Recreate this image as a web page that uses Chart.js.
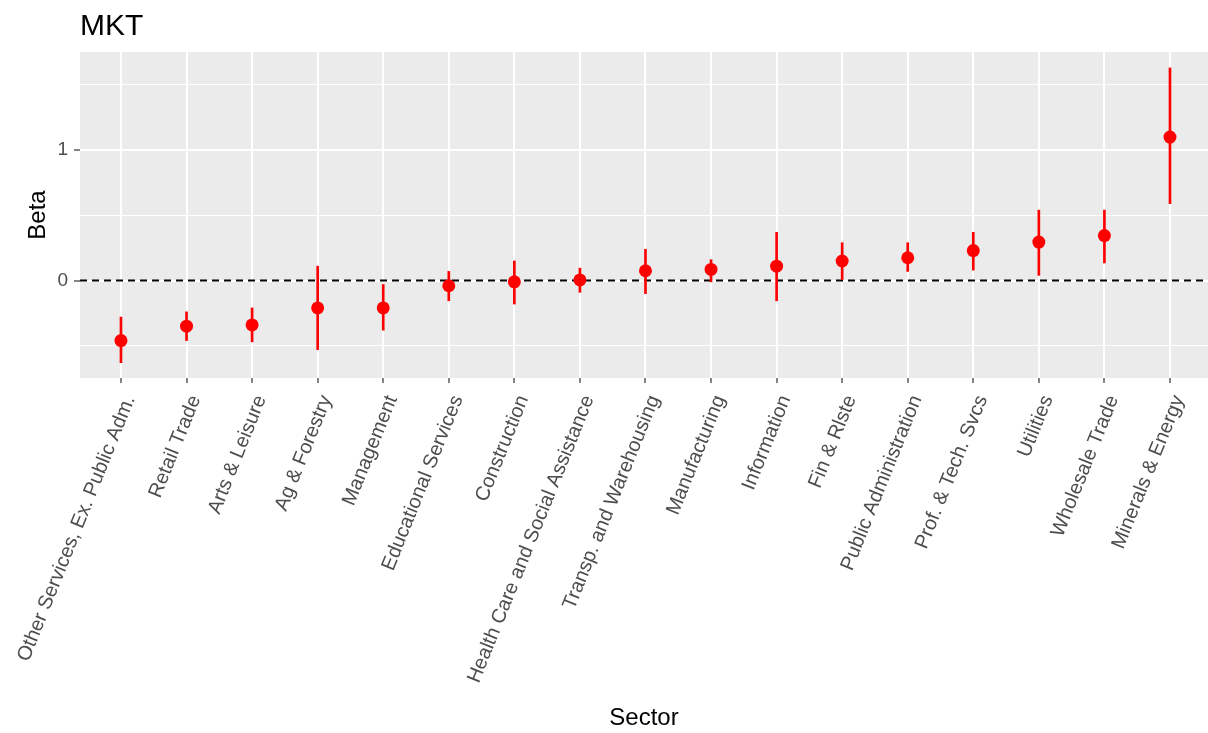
<!DOCTYPE html>
<html>
<head>
<meta charset="utf-8">
<title>MKT beta by sector</title>
<script src="https://cdn.jsdelivr.net/npm/chart.js@4"></script>
<style>
  body { margin: 0; background: #fff; }
  #wrap { width: 1208px; height: 733px; }
</style>
</head>
<body>
<div id="wrap"><canvas id="betaChart" width="1208" height="733"></canvas></div>
<script>
// Sectors, ordered by estimated beta
const sectors = [
    'Other Services, Ex. Public Adm.', 'Retail Trade', 'Arts & Leisure', 'Ag & Forestry',
    'Management', 'Educational Services', 'Construction', 'Health Care and Social Assistance',
    'Transp. and Warehousing', 'Manufacturing', 'Information', 'Fin & Rlste',
    'Public Administration', 'Prof. & Tech. Svcs', 'Utilities', 'Wholesale Trade', 'Minerals & Energy'
];
const beta  = [-0.46, -0.35, -0.34, -0.21, -0.21, -0.04, -0.01, 0.005, 0.075, 0.085, 0.11, 0.15, 0.175, 0.23, 0.295, 0.345, 1.10];
const lower = [-0.63, -0.46, -0.47, -0.53, -0.38, -0.155, -0.18, -0.09, -0.10, -0.01, -0.155, 0.0, 0.07, 0.08, 0.04, 0.135, 0.59];
const upper = [-0.28, -0.24, -0.21, 0.11, -0.03, 0.07, 0.15, 0.095, 0.24, 0.16, 0.37, 0.29, 0.29, 0.37, 0.54, 0.54, 1.63];
const yTicks = [-0.5, 0, 0.5, 1, 1.5];

const FONT = "'Liberation Sans', Arial, sans-serif";

// grey panel behind the plot, dashed zero line, plot title
const panelPlugin = {
    id: 'panel',
    beforeDraw(chart) {
        const { ctx, chartArea: a } = chart;
        ctx.save();
        ctx.fillStyle = '#EBEBEB';
        ctx.fillRect(a.left, a.top, a.right - a.left, a.bottom - a.top);
        ctx.restore();
    },
    beforeDatasetsDraw(chart) {
        const { ctx, chartArea: a, scales } = chart;
        const y0 = scales.y.getPixelForValue(0);
        ctx.save();
        ctx.strokeStyle = '#000';
        ctx.lineWidth = 2;
        ctx.setLineDash([7, 5]);
        ctx.beginPath();
        ctx.moveTo(a.left, y0);
        ctx.lineTo(a.right, y0);
        ctx.stroke();
        ctx.restore();
    },
    afterDraw(chart) {
        const { ctx, chartArea: a } = chart;
        ctx.save();
        ctx.fillStyle = '#000';
        ctx.font = '30px ' + FONT;
        ctx.textBaseline = 'alphabetic';
        ctx.fillText('MKT', a.left, 35);
        ctx.restore();
    }
};

const ctx = document.getElementById('betaChart').getContext('2d');
new Chart(ctx, {
    type: 'bar',
    data: {
        datasets: [{
            type: 'line',
            label: 'Beta',
            data: beta.map((v, i) => ({ x: i, y: v })),
            showLine: false,
            pointRadius: 6.5,
            pointBackgroundColor: '#FF0000',
            pointBorderWidth: 0,
            order: 0
        }, {
            label: 'Interval',
            data: lower.map((v, i) => ({ x: i, y: [v, upper[i]] })),
            backgroundColor: '#FF0000',
            borderWidth: 0,
            barThickness: 2,
            order: 1
        }]
    },
    options: {
        responsive: false,
        animation: false,
        layout: { autoPadding: false, padding: { top: 52, left: 0, right: 0, bottom: 0 } },
        plugins: { legend: { display: false }, tooltip: { enabled: false } },
        scales: {
            x: {
                type: 'linear',
                offset: false,
                min: -0.625,
                max: sectors.length - 1 + 0.58,
                afterBuildTicks: s => { s.ticks = sectors.map((_, i) => ({ value: i })); },
                afterFit: s => { s.height = 355; s.paddingLeft = 0; s.paddingRight = 0; },
                border: { display: false },
                grid: { offset: false, color: '#FFFFFF', lineWidth: 2, tickColor: '#333333', tickWidth: 1.2, tickLength: 5 },
                ticks: {
                    autoSkip: false,
                    minRotation: 68,
                    maxRotation: 68,
                    padding: 9,
                    labelOffset: 9,
                    color: '#4D4D4D',
                    font: { family: FONT, size: 20 },
                    callback: v => sectors[v] ?? ''
                },
                title: {
                    display: true,
                    text: 'Sector',
                    color: '#000',
                    font: { family: FONT, size: 24 },
                    padding: { top: 0, bottom: 0 }
                }
            },
            y: {
                min: -0.747,
                max: 1.752,
                afterBuildTicks: s => { s.ticks = yTicks.map(v => ({ value: v })); },
                afterFit: s => { s.width = 80; s.paddingTop = 0; s.paddingBottom = 0; },
                border: { display: false },
                grid: {
                    color: '#FFFFFF',
                    lineWidth: c => Number.isInteger(c.tick.value) ? 2 : 1,
                    tickColor: c => Number.isInteger(c.tick.value) ? '#333333' : 'rgba(0,0,0,0)',
                    tickWidth: 1.2,
                    tickLength: 6
                },
                ticks: {
                    padding: 6,
                    color: '#4D4D4D',
                    font: { family: FONT, size: 19 },
                    callback: v => Number.isInteger(v) ? String(v) : ''
                },
                title: {
                    display: true,
                    text: 'Beta',
                    color: '#000',
                    font: { family: FONT, size: 24 },
                    padding: { top: 24, bottom: 0 }
                }
            }
        }
    },
    plugins: [panelPlugin]
});
</script>
</body>
</html>
